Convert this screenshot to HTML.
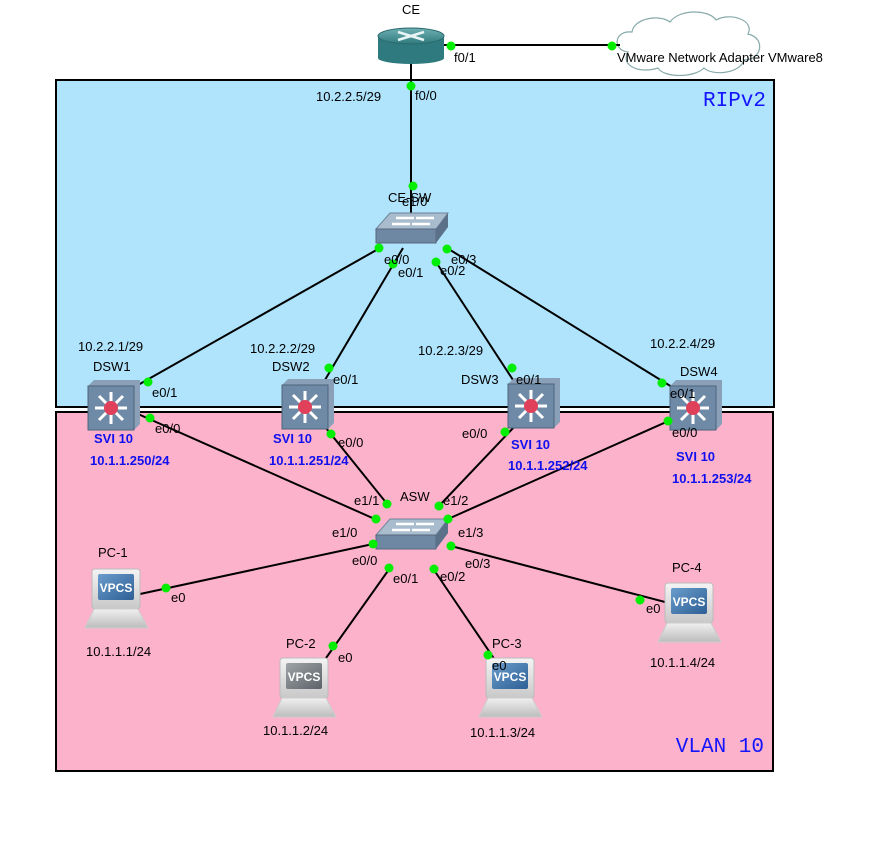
<!DOCTYPE html>
<html><head><meta charset="utf-8"><style>
html,body{margin:0;padding:0;background:#fff;}
svg{display:block;font-family:"Liberation Sans",sans-serif;}
.l{font-size:13px;fill:#000;}
.s{font-size:13px;fill:#1010ee;font-weight:bold;}
</style></head><body>
<svg width="882" height="859" viewBox="0 0 882 859">
<defs>
<linearGradient id="mon" x1="0" y1="0" x2="0" y2="1"><stop offset="0" stop-color="#f4f4f4"/><stop offset="1" stop-color="#c8c8c8"/></linearGradient>
<linearGradient id="scr" x1="0" y1="0" x2="1" y2="1"><stop offset="0" stop-color="#6a9ccc"/><stop offset="1" stop-color="#2e5f95"/></linearGradient>
<linearGradient id="scrg" x1="0" y1="0" x2="1" y2="1"><stop offset="0" stop-color="#a0a4a8"/><stop offset="1" stop-color="#5c6268"/></linearGradient>
<linearGradient id="base" x1="0" y1="0" x2="0" y2="1"><stop offset="0" stop-color="#f0f0f0"/><stop offset="1" stop-color="#bcbcbc"/></linearGradient>
<linearGradient id="rt" x1="0" y1="0" x2="0" y2="1"><stop offset="0" stop-color="#6fb0b3"/><stop offset="1" stop-color="#2f7a7e"/></linearGradient>
<g id="pc"><rect x="0" y="0" width="48" height="40" rx="3" fill="url(#mon)" stroke="#bbb"/><path d="M-7 59 L2 40 L46 40 L56 59 Z" fill="url(#base)" stroke="#ccc"/></g>
<g id="l3"><path d="M0 6 L6 0 L52 0 L52 44 L46 50 L0 50 Z" fill="#8aa0b8"/><rect x="0" y="6" width="46" height="44" fill="#6f8aa6" stroke="#4e647a"/><g stroke="#fff" stroke-width="3"><line x1="23" y1="12" x2="23" y2="44"/><line x1="7" y1="28" x2="39" y2="28"/><line x1="11" y1="16" x2="35" y2="40"/><line x1="35" y1="16" x2="11" y2="40"/></g><circle cx="23" cy="28" r="7" fill="#e0405a"/></g>
<g id="sw"><path d="M0 16 L14 0 L72 0 L72 14 L60 30 L0 30 Z" fill="#8ea4bc"/><path d="M0 16 L14 0 L72 0 L60 16 Z" fill="#a9bccd" stroke="#6f8499"/><rect x="0" y="16" width="60" height="14" fill="#6e87a2" stroke="#56697e"/><path d="M60 16 L72 0 L72 14 L60 30Z" fill="#5b7189"/><g stroke="#fff" stroke-width="2.5"><line x1="20" y1="5" x2="38" y2="5"/><line x1="40" y1="5" x2="58" y2="5"/><line x1="16" y1="11" x2="34" y2="11"/><line x1="36" y1="11" x2="54" y2="11"/></g></g>
</defs>
<rect x="56" y="80" width="718" height="327" fill="#b0e4fc" stroke="#000" stroke-width="2"/>
<rect x="56" y="412" width="717" height="359" fill="#fdb2cc" stroke="#000" stroke-width="2"/>
<text x="766" y="106" text-anchor="end" style="font-family:'Liberation Mono',monospace;font-size:21px;fill:#1414ff">RIPv2</text>
<text x="764" y="752" text-anchor="end" style="font-family:'Liberation Mono',monospace;font-size:21px;fill:#1414ff">VLAN 10</text>
<!-- cloud -->
<path d="M628 52 C612 50 614 30 632 32 C634 18 660 14 670 22 C680 8 710 10 716 20 C730 12 755 20 748 34 C766 38 762 60 744 60 C740 74 712 76 704 68 C694 78 664 78 658 68 C640 74 620 66 628 52 Z" fill="#fff" stroke="#8aa" stroke-width="1.2"/>
<g stroke="#000" stroke-width="2" fill="none">
<line x1="411" y1="45" x2="620" y2="45"/>
<line x1="411" y1="60" x2="411" y2="215"/>
<line x1="380" y1="248" x2="138" y2="385"/>
<line x1="403" y1="248" x2="322" y2="385"/>
<line x1="436" y1="262" x2="515" y2="383"/>
<line x1="447" y1="248" x2="672" y2="387"/>
<line x1="138" y1="414" x2="377" y2="520"/>
<line x1="326" y1="428" x2="388" y2="505"/>
<line x1="515" y1="426" x2="439" y2="506"/>
<line x1="682" y1="415" x2="448" y2="519"/>
<line x1="373" y1="544" x2="140" y2="594"/>
<line x1="390" y1="568" x2="326" y2="658"/>
<line x1="434" y1="570" x2="495" y2="660"/>
<line x1="451" y1="546" x2="665" y2="602"/>
</g>
<!-- CE router -->
<rect x="378" y="36" width="66" height="22" fill="#2f7a7e"/>
<ellipse cx="411" cy="58" rx="33" ry="6" fill="#2f7a7e"/>
<ellipse cx="411" cy="36" rx="33" ry="8" fill="url(#rt)" stroke="#2a6a6e"/>
<g stroke="#e8f4f4" stroke-width="2.5"><line x1="398" y1="32" x2="424" y2="40"/><line x1="398" y1="40" x2="424" y2="32"/></g>
<use href="#sw" x="376" y="213"/>
<use href="#sw" x="376" y="519"/>
<use href="#l3" x="88" y="380"/>
<use href="#l3" x="282" y="379"/>
<use href="#l3" x="508" y="378"/>
<use href="#l3" x="670" y="380"/>
<use href="#pc" x="92" y="569"/><rect x="98" y="574" width="36" height="26" rx="2" fill="url(#scr)"/><text x="116" y="592" text-anchor="middle" style="font-size:12px;font-weight:bold;fill:#fff">VPCS</text>
<use href="#pc" x="280" y="658"/><rect x="286" y="663" width="36" height="26" rx="2" fill="url(#scrg)"/><text x="304" y="681" text-anchor="middle" style="font-size:12px;font-weight:bold;fill:#fff">VPCS</text>
<use href="#pc" x="486" y="658"/><rect x="492" y="663" width="36" height="26" rx="2" fill="url(#scr)"/><text x="510" y="681" text-anchor="middle" style="font-size:12px;font-weight:bold;fill:#fff">VPCS</text>
<use href="#pc" x="665" y="583"/><rect x="671" y="588" width="36" height="26" rx="2" fill="url(#scr)"/><text x="689" y="606" text-anchor="middle" style="font-size:12px;font-weight:bold;fill:#fff">VPCS</text>
<g fill="#00ee00">
<circle cx="451" cy="46" r="4.5"/><circle cx="612" cy="46" r="4.5"/>
<circle cx="411" cy="86" r="4.5"/><circle cx="413" cy="186" r="4.5"/>
<circle cx="379" cy="248" r="4.5"/><circle cx="393" cy="264" r="4.5"/><circle cx="436" cy="262" r="4.5"/><circle cx="447" cy="249" r="4.5"/>
<circle cx="148" cy="382" r="4.5"/><circle cx="329" cy="368" r="4.5"/><circle cx="512" cy="368" r="4.5"/><circle cx="662" cy="383" r="4.5"/>
<circle cx="150" cy="418" r="4.5"/><circle cx="331" cy="434" r="4.5"/><circle cx="505" cy="432" r="4.5"/><circle cx="668" cy="421" r="4.5"/>
<circle cx="376" cy="519" r="4.5"/><circle cx="387" cy="504" r="4.5"/><circle cx="439" cy="506" r="4.5"/><circle cx="448" cy="519" r="4.5"/>
<circle cx="373" cy="544" r="4.5"/><circle cx="389" cy="568" r="4.5"/><circle cx="434" cy="569" r="4.5"/><circle cx="451" cy="546" r="4.5"/>
<circle cx="166" cy="588" r="4.5"/><circle cx="333" cy="646" r="4.5"/><circle cx="488" cy="655" r="4.5"/><circle cx="640" cy="600" r="4.5"/>
</g>
<g class="l">
<text x="411" y="14" text-anchor="middle">CE</text>
<text x="454" y="62">f0/1</text>
<text x="617" y="62">VMware Network Adapter VMware8</text>
<text x="316" y="101">10.2.2.5/29</text>
<text x="415" y="100">f0/0</text>
<text x="388" y="202">CE-SW</text><text x="402" y="206">e1/0</text>
<text x="384" y="264">e0/0</text><text x="398" y="277">e0/1</text><text x="440" y="275">e0/2</text><text x="451" y="264">e0/3</text>
<text x="78" y="351">10.2.2.1/29</text><text x="93" y="371">DSW1</text><text x="152" y="397">e0/1</text><text x="155" y="433">e0/0</text>
<text x="250" y="353">10.2.2.2/29</text><text x="272" y="371">DSW2</text><text x="333" y="384">e0/1</text><text x="338" y="447">e0/0</text>
<text x="418" y="355">10.2.2.3/29</text><text x="461" y="384">DSW3</text><text x="516" y="384">e0/1</text><text x="462" y="438">e0/0</text>
<text x="650" y="348">10.2.2.4/29</text><text x="680" y="376">DSW4</text><text x="670" y="398">e0/1</text><text x="672" y="437">e0/0</text>
<text x="400" y="501">ASW</text><text x="354" y="505">e1/1</text><text x="443" y="505">e1/2</text><text x="332" y="537">e1/0</text><text x="458" y="537">e1/3</text>
<text x="352" y="565">e0/0</text><text x="393" y="583">e0/1</text><text x="440" y="581">e0/2</text><text x="465" y="568">e0/3</text>
<text x="98" y="557">PC-1</text><text x="171" y="602">e0</text><text x="86" y="656">10.1.1.1/24</text>
<text x="286" y="648">PC-2</text><text x="338" y="662">e0</text><text x="263" y="735">10.1.1.2/24</text>
<text x="492" y="648">PC-3</text><text x="492" y="670">e0</text><text x="470" y="737">10.1.1.3/24</text>
<text x="672" y="572">PC-4</text><text x="646" y="613">e0</text><text x="650" y="667">10.1.1.4/24</text>
</g>
<g class="s">
<text x="94" y="443">SVI 10</text><text x="90" y="465">10.1.1.250/24</text>
<text x="273" y="443">SVI 10</text><text x="269" y="465">10.1.1.251/24</text>
<text x="511" y="449">SVI 10</text><text x="508" y="470">10.1.1.252/24</text>
<text x="676" y="461">SVI 10</text><text x="672" y="483">10.1.1.253/24</text>
</g>
</svg>
</body></html>
